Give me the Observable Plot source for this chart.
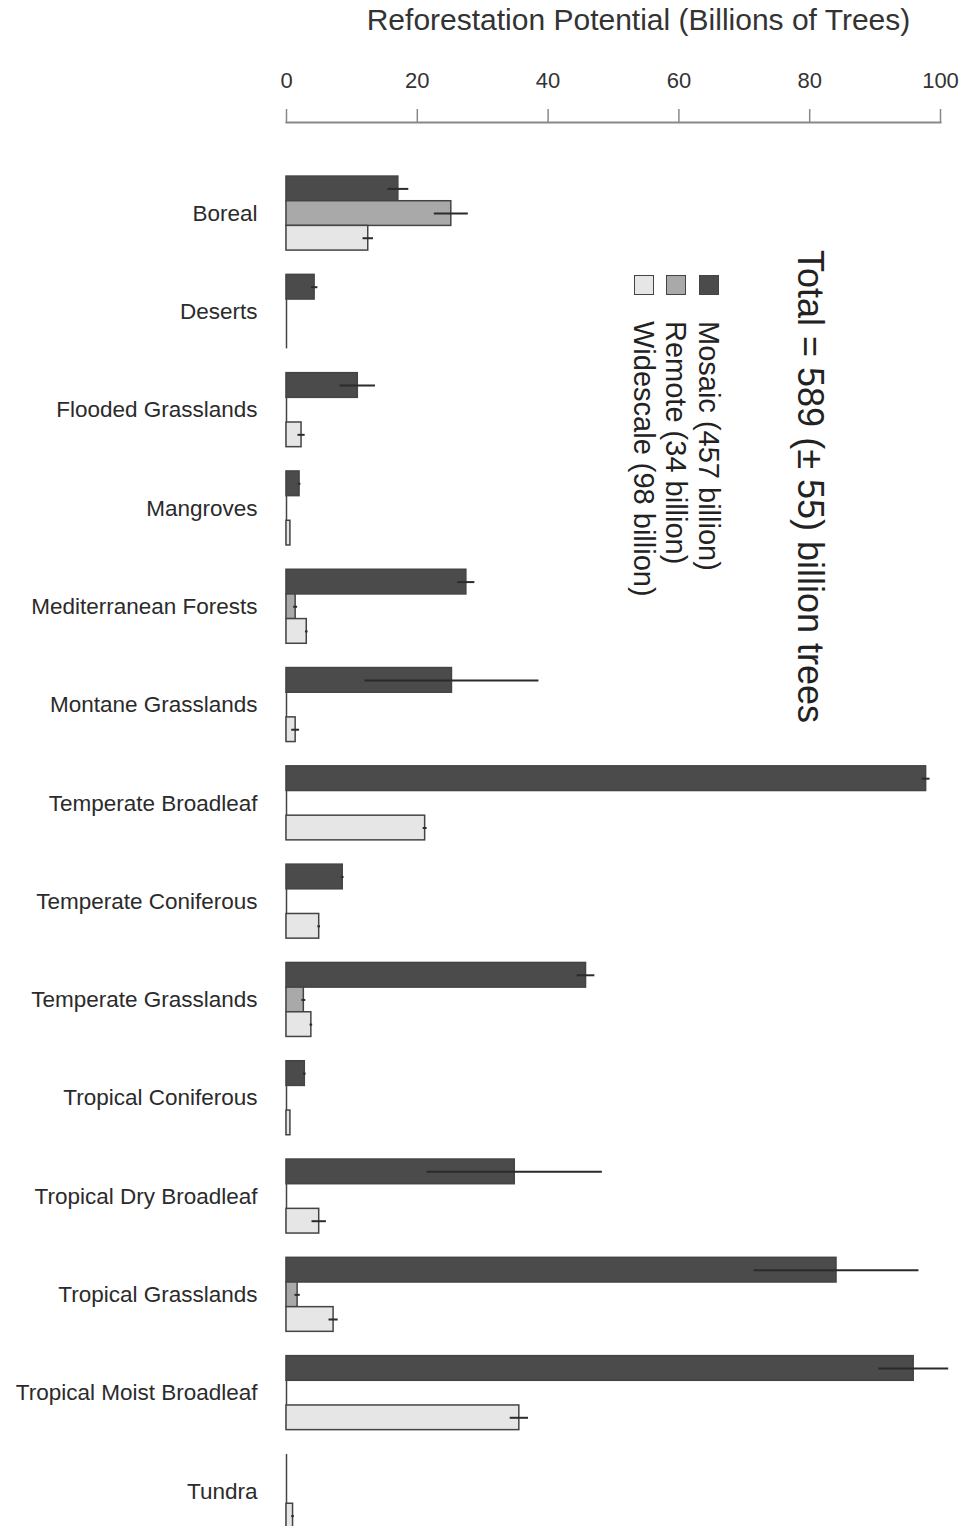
<!DOCTYPE html>
<html>
<head>
<meta charset="utf-8">
<script src="https://cdn.jsdelivr.net/npm/d3@7"></script>
<script src="https://cdn.jsdelivr.net/npm/@observablehq/plot@0.6"></script>
<style>
  html, body { margin: 0; padding: 0; background: #fff; overflow: hidden; }
  #wrap { position: relative; width: 960px; height: 1526px; overflow: hidden; }
  #legend {
    position: absolute; left: 829px; top: 250px;
    transform-origin: 0 0; transform: rotate(90deg);
    white-space: nowrap; color: #222;
    font-family: "Liberation Sans", Arial, Helvetica, sans-serif;
  }
  #legend .total { font-size: 36px; line-height: 37px; height: 37px; }
  #legend .rows { margin-top: 67px; }
  #legend .row { display: flex; align-items: center; height: 32.5px; font-size: 29px; line-height: 32.5px; }
  #legend .sw { width: 20px; height: 20px; box-sizing: border-box; border: 1.5px solid #444; margin-left: 25px; margin-right: 26px; flex: none; }
</style>
</head>
<body>
<div id="wrap">
  <div id="chart"></div>
  <div id="legend"></div>
</div>
<script>
// Reforestation potential by biome, in billions of trees
const biomes = [
  "Boreal", "Deserts", "Flooded Grasslands", "Mangroves", "Mediterranean Forests",
  "Montane Grasslands", "Temperate Broadleaf", "Temperate Coniferous",
  "Temperate Grasslands", "Tropical Coniferous", "Tropical Dry Broadleaf",
  "Tropical Grasslands", "Tropical Moist Broadleaf", "Tundra"
];
const mosaic       = [17.1, 4.3, 10.9, 2.0, 27.5, 25.3, 97.8, 8.6, 45.8, 2.8, 34.9, 84.1, 95.9, 0];
const mosaicErr    = [1.6, 0.5, 2.7, 0.2, 1.3, 13.3, 0.6, 0.2, 1.35, 0.2, 13.4, 12.6, 5.35, 0];
const remote       = [25.2, 0, 0, 0, 1.4, 0, 0, 0, 2.65, 0, 0, 1.7, 0, 0];
const remoteErr    = [2.6, 0, 0, 0, 0.3, 0, 0, 0, 0.3, 0, 0, 0.4, 0, 0];
const widescale    = [12.5, 0, 2.3, 0.6, 3.1, 1.4, 21.2, 5.0, 3.8, 0.6, 5.0, 7.2, 35.6, 1.0];
const widescaleErr = [0.8, 0, 0.55, 0, 0.2, 0.6, 0.3, 0.2, 0.2, 0, 1.1, 0.7, 1.4, 0.2];

const seriesNames  = ["Mosaic", "Remote", "Widescale"];
const seriesTotals = [457, 34, 98];
const grandTotal = 589;
const grandTotalErr = 55;
const xTicks = [0, 20, 40, 60, 80, 100];
const axisTitle = "Reforestation Potential (Billions of Trees)";

const fills = ["#4b4b4b", "#a9a9a9", "#e6e6e6"];
const seriesValues = [mosaic, remote, widescale];
const seriesErrs = [mosaicErr, remoteErr, widescaleErr];

const font = "'Liberation Sans', Arial, Helvetica, sans-serif";
const bandPx = 74;           // height of one biome group
const slot = bandPx / 3;     // height of one bar within a group

const marks = [];
// zero baseline spanning each biome group
marks.push(Plot.tickX(biomes, {x: 0, y: d => d, stroke: "#444", strokeWidth: 1.5}));

seriesNames.forEach((name, k) => {
  const rows = biomes.map((b, i) => ({biome: b, series: name, value: seriesValues[k][i], err: seriesErrs[k][i]}));
  marks.push(Plot.barX(rows.filter(d => d.value > 0), {
    x1: 0, x2: "value", y: "biome",
    fill: fills[k], stroke: "#444", strokeWidth: 1.5,
    insetTop: k * slot, insetBottom: (2 - k) * slot
  }));
  marks.push(Plot.ruleY(rows.filter(d => d.err > 0), {
    y: "biome", x1: d => d.value - d.err, x2: d => d.value + d.err,
    dy: (k - 1) * slot, stroke: "#2b2b2b", strokeWidth: 2
  }));
});

marks.push(Plot.frame({anchor: "top", stroke: "#888", strokeWidth: 2}));
marks.push(Plot.axisX(xTicks, {
  anchor: "top", tickSize: 14, tickPadding: 21, fontSize: 22,
  stroke: "#888", strokeWidth: 1.5, fill: "#333", label: null
}));
marks.push(Plot.axisY({
  tickSize: 0, tickPadding: 29, fontSize: 22.5, fill: "#2b2b2b", label: null
}));
marks.push(Plot.text([axisTitle], {
  text: d => d, frameAnchor: "top", dx: 25, dy: -102,
  lineAnchor: "middle", fontSize: 30, fill: "#333"
}));

const chart = Plot.plot({
  width: 960,
  height: 1582,
  marginLeft: 286,
  marginRight: 20,
  marginTop: 122,
  marginBottom: 0,
  style: {fontFamily: font, background: "#fff"},
  x: {domain: [0, 100]},
  y: {domain: biomes, paddingInner: 0.247, paddingOuter: 0.55, align: 0.5, round: false},
  marks
});
document.getElementById("chart").append(chart);

// rotated legend with the overall total
const legend = document.getElementById("legend");
const totalLine = document.createElement("div");
totalLine.className = "total";
totalLine.textContent = `Total = ${grandTotal} (\u00b1 ${grandTotalErr}) billion trees`;
legend.append(totalLine);
const rowsBox = document.createElement("div");
rowsBox.className = "rows";
seriesNames.forEach((name, k) => {
  const row = document.createElement("div");
  row.className = "row";
  const sw = document.createElement("span");
  sw.className = "sw";
  sw.style.background = fills[k];
  const label = document.createElement("span");
  label.textContent = `${name} (${seriesTotals[k]} billion)`;
  row.append(sw, label);
  rowsBox.append(row);
});
legend.append(rowsBox);
</script>
</body>
</html>
